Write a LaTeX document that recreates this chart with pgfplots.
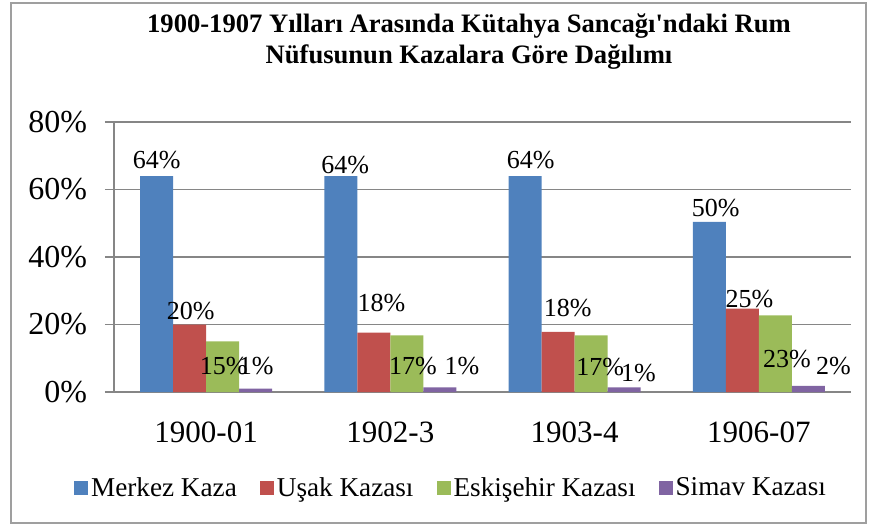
\documentclass[border=0pt]{standalone}
\usepackage{pgfplots}
\pgfplotsset{compat=1.18}
\usepackage{pgfplotstable}
\usepackage{fontspec}
\setmainfont{Liberation Serif}[Ligatures=TeXOff]

\definecolor{cblue}{HTML}{4F81BD}
\definecolor{cred}{HTML}{C0504D}
\definecolor{cgreen}{HTML}{9BBB59}
\definecolor{cpurple}{HTML}{8064A2}
\definecolor{gridgray}{HTML}{868686}

% x = group, y = share, lab = printed value, dx/dy = label offset in pt
\pgfplotstableread{
x y lab dx dy
0 64.0 64 0.0 8.0
1 64.0 64 2.2 5.5
2 64.0 64 2.8 8.0
3 50.4 50 3.2 7.0
}\merkez
\pgfplotstableread{
x y lab dx dy
0 20.0 20 0.5 6.5
1 17.6 18 3.8 14.8
2 17.8 18 4.8 12.0
3 24.7 25 3.6 4.8
}\usak
\pgfplotstableread{
x y lab dx dy
0 15.0 15 0.5 -12.5
1 16.8 17 3.0 -15.3
2 16.8 17 4.6 -15.8
3 22.7 23 5.8 -21.8
}\eskisehir
\pgfplotstableread{
x y lab dx dy
0 1.0 1 0.3 11.3
1 1.4 1 11.0 10.6
2 1.4 1 7.2 7.1
3 1.8 2 12.5 10.0
}\simav

\begin{document}
\begin{tikzpicture}
\useasboundingbox (0,0) rectangle (434.5pt,-263.5pt);
\draw[gray!75, line width=0.9pt] (5.5pt,-1.5pt) rectangle (433pt,-261.5pt);
\node[font=\bfseries\fontsize{13.3}{15.5}\selectfont, align=center] at (234.5pt,-21pt)
  {1900-1907 Yılları Arasında Kütahya Sancağı'ndaki Rum\\Nüfusunun Kazalara Göre Dağılımı};
\begin{axis}[
    at={(57pt,-196pt)}, anchor=south west,
    scale only axis, width=368.5pt, height=135pt,
    ybar=0pt, bar width=16.5pt,
    xmin=-0.5, xmax=3.5, ymin=0, ymax=80,
    axis x line*=bottom, axis y line*=left,
    axis line style={gridgray, line width=0.8pt, -},
    xtick={0,1,2,3},
    xticklabels={1900-01,1902-3,1903-4,1906-07},
    xtick style={draw=none},
    xticklabel style={font=\fontsize{15.5}{18}\selectfont, yshift=-7pt},
    ytick={0,20,40,60,80},
    yticklabels={0\%,20\%,40\%,60\%,80\%},
    yticklabel style={font=\fontsize{16}{18}\selectfont, xshift=-5.5pt},
    ytick style={gridgray, line width=0.8pt},
    tick align=outside, major tick length=4.5pt,
    ymajorgrids, major grid style={gridgray, line width=0.8pt},
    point meta=explicit symbolic,
    nodes near coords={\pgfplotspointmeta\%},
    visualization depends on={\thisrow{dx} \as \dx},
    visualization depends on={\thisrow{dy} \as \dy},
    every node near coord/.append style={font=\fontsize{13}{15}\selectfont,
        anchor=center, inner sep=0pt, xshift=\dx*1pt, yshift=\dy*1pt},
    legend style={at={(0.458,-0.356)}, anchor=center, draw=none,
        font=\fontsize{13.6}{16}\selectfont, legend columns=4,
        /tikz/every even column/.append style={column sep=10pt},
        nodes={inner sep=1.5pt}},
    legend image code/.code={\fill[#1] (0pt,-3.5pt) rectangle (7pt,3.5pt);},
    clip=false,
]
\addplot[fill=cblue, draw=none] table[x=x, y=y, meta=lab] {\merkez};
\addplot[fill=cred, draw=none] table[x=x, y=y, meta=lab] {\usak};
\addplot[fill=cgreen, draw=none] table[x=x, y=y, meta=lab] {\eskisehir};
\addplot[fill=cpurple, draw=none] table[x=x, y=y, meta=lab] {\simav};
\legend{Merkez Kaza, Uşak Kazası, Eskişehir Kazası, Simav Kazası}
\end{axis}
\end{tikzpicture}
\end{document}
